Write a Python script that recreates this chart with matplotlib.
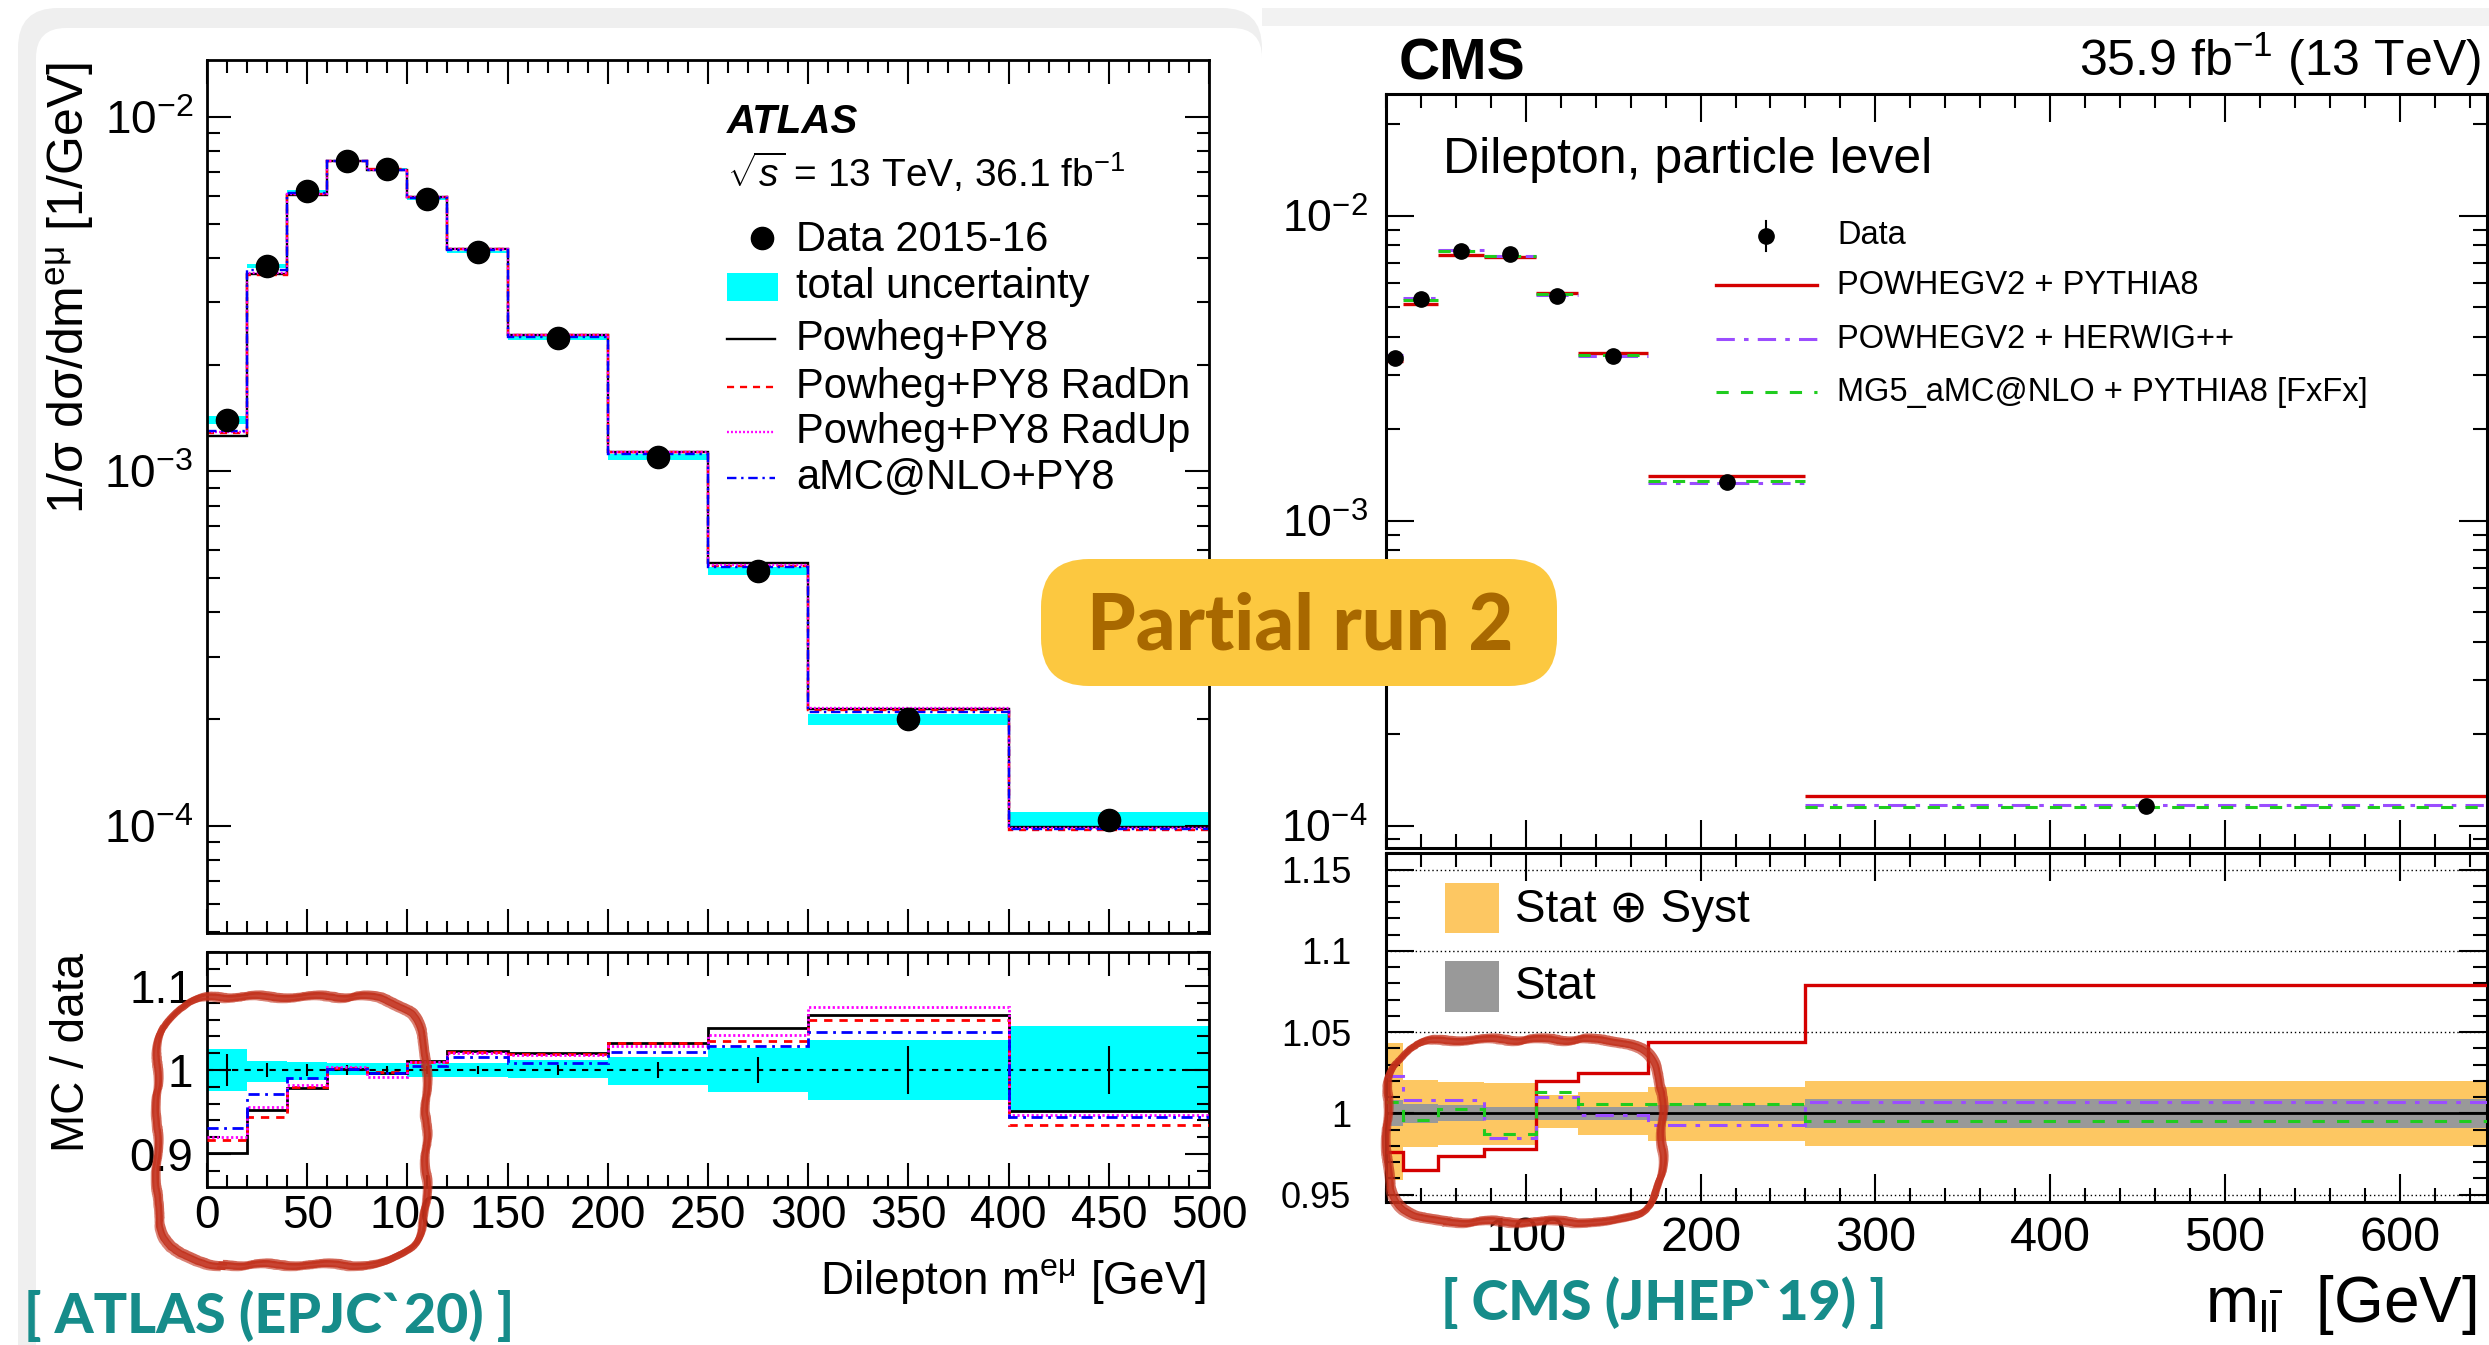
import numpy as np
import matplotlib.pyplot as plt
from matplotlib.patches import FancyBboxPatch, Rectangle
from matplotlib.lines import Line2D
from matplotlib.transforms import IdentityTransform
from matplotlib.ticker import LogLocator, MultipleLocator, NullFormatter

plt.rcParams['font.family'] = ['Liberation Sans', 'DejaVu Sans']
plt.rcParams['mathtext.fontset'] = 'custom'
plt.rcParams['mathtext.rm'] = 'Liberation Sans'
plt.rcParams['mathtext.it'] = 'Liberation Sans:italic'
plt.rcParams['mathtext.bf'] = 'Liberation Sans:bold'

# ---- ATLAS: normalised e-mu dilepton mass, Data 2015-16 ----
atlas_edges = [0, 20, 40, 60, 80, 100, 120, 150, 200, 250, 300, 400, 500]
atlas_data = [1.40e-3, 3.80e-3, 6.17e-3, 7.50e-3, 7.13e-3, 5.88e-3,
              4.16e-3, 2.38e-3, 1.10e-3, 5.24e-4, 2.00e-4, 1.04e-4]
atlas_unc_up = [0.025, 0.011, 0.010, 0.008, 0.008, 0.008, 0.008, 0.012, 0.016, 0.026, 0.036, 0.052]
atlas_unc_dn = [0.025, 0.014, 0.012, 0.006, 0.006, 0.008, 0.008, 0.010, 0.018, 0.026, 0.036, 0.049]
atlas_stat = [0.019, 0.008, 0.007, 0.006, 0.005, 0.005, 0.005, 0.006, 0.009, 0.016, 0.028, 0.028]
ratio_powheg = [0.901, 0.952, 0.979, 1.001, 0.996, 1.011, 1.023, 1.020, 1.032, 1.050, 1.065, 0.951]
ratio_raddn = [0.917, 0.944, 0.980, 1.002, 0.998, 1.010, 1.022, 1.019, 1.032, 1.034, 1.060, 0.935]
ratio_radup = [0.920, 0.956, 0.982, 1.003, 0.992, 1.009, 1.020, 1.018, 1.028, 1.042, 1.075, 0.947]
ratio_amc = [0.931, 0.972, 0.991, 1.001, 0.997, 1.005, 1.015, 1.008, 1.021, 1.028, 1.045, 0.944]
atlas_mc_labels = ['Powheg+PY8', 'Powheg+PY8 RadDn', 'Powheg+PY8 RadUp', 'aMC@NLO+PY8']

# ---- CMS: dilepton mass, particle level ----
cms_edges = [20, 30, 50, 76, 106, 130, 170, 260, 650]
cms_data = [3.42e-3, 5.33e-3, 7.64e-3, 7.48e-3, 5.45e-3, 3.47e-3, 1.34e-3, 1.156e-4]
cms_tot_up = [0.043, 0.0205, 0.0195, 0.0185, 0.011, 0.0133, 0.016, 0.020]
cms_tot_dn = [0.041, 0.0205, 0.0195, 0.0195, 0.009, 0.0133, 0.017, 0.020]
cms_stat = [0.008, 0.006, 0.005, 0.004, 0.004, 0.004, 0.005, 0.009]
ratio_pwg_py8 = [0.976, 0.965, 0.974, 0.978, 1.020, 1.025, 1.044, 1.079]
ratio_pwg_hw = [1.023, 1.008, 1.008, 0.985, 1.010, 0.999, 0.993, 1.007]
ratio_mg5 = [1.007, 0.996, 1.0025, 0.987, 1.013, 1.006, 1.006, 0.995]
cms_mc_labels = ['POWHEGV2 + PYTHIA8', 'POWHEGV2 + HERWIG++', 'MG5_aMC@NLO + PYTHIA8 [FxFx]']

W, H = 2489, 1345


def rect(x0, y0, x1, y1):
    # pixel box measured from the top-left corner -> figure fractions
    return [x0 / W, 1 - y1 / H, (x1 - x0) / W, (y1 - y0) / H]


def fx(x):
    return x / W


def fy(y):
    return 1 - y / H


def pbox(x0, y0, x1, y1, r, **kw):
    # rounded box in display pixels (keeps the corners round)
    return FancyBboxPatch((x0, H - y1), x1 - x0, y1 - y0,
                          boxstyle='round,pad=0,rounding_size=%d' % r,
                          transform=IdentityTransform(), **kw)


def style_axes(ax, major, minor, size, pad, spine=2.0):
    ax.tick_params(which='both', direction='in', top=True, right=True,
                   width=1.5, labelsize=size, pad=pad)
    ax.tick_params(which='major', length=major)
    ax.tick_params(which='minor', length=minor)
    for sp in ax.spines.values():
        sp.set_linewidth(spine)


fig = plt.figure(figsize=(W / 100, H / 100), dpi=100)

# faint frame of the left-hand slide image
fig.add_artist(pbox(18, 8, 1262, 1400, 40, fc='#efefef', ec='none', zorder=-10))
fig.add_artist(pbox(36, 28, 1262, 1400, 30, fc='white', ec='none', zorder=-9))
fig.add_artist(Rectangle((fx(1262), fy(26)), fx(W) - fx(1262), 18 / H,
                         fc='#f2f2f2', ec='none', zorder=-10))

ax1 = fig.add_axes(rect(207, 60, 1209, 933))
ax2 = fig.add_axes(rect(207, 952, 1209, 1187))
ax3 = fig.add_axes(rect(1386, 94, 2487, 848))
ax4 = fig.add_axes(rect(1386, 853, 2487, 1202))

# ---------------- ATLAS upper panel ----------------
ae = np.array(atlas_edges, float)
ac = 0.5 * (ae[:-1] + ae[1:])
ad = np.array(atlas_data)
a_up = np.array(atlas_unc_up)
a_dn = np.array(atlas_unc_dn)
atlas_ratios = [ratio_powheg, ratio_raddn, ratio_radup, ratio_amc]
atlas_styles = [('k', '-'), ('#ff0000', (0, (3, 2.5))),
                ('#ff00ff', (0, (0.8, 0.9))), ('#0000ff', (0, (4, 2, 1, 2)))]

ax1.stairs(ad * (1 + a_up), ae, baseline=ad * (1 - a_dn), fill=True,
           color='#00ffff', lw=0, zorder=1)
for r, (c, ls) in zip(atlas_ratios, atlas_styles):
    ax1.stairs(ad * np.array(r), ae, baseline=None, color=c, ls=ls, lw=1.7, zorder=2)
ax1.plot(ac, ad, 'o', color='k', ms=16, zorder=3)

ax1.set_xlim(0, 500)
ax1.set_yscale('log')
ax1.set_ylim(4.98e-5, 1.449e-2)
ax1.set_xticks(np.arange(0, 501, 50))
ax1.xaxis.set_minor_locator(MultipleLocator(10))
ax1.set_yticks([1e-4, 1e-3, 1e-2], [r'$10^{-4}$', r'$10^{-3}$', r'$10^{-2}$'])
ax1.yaxis.set_minor_locator(LogLocator(base=10, subs=np.arange(2, 10)))
ax1.yaxis.set_minor_formatter(NullFormatter())
style_axes(ax1, 17, 9, 33, 10)
ax1.tick_params(labelbottom=False)

# ---------------- ATLAS ratio panel ----------------
ax2.stairs(1 + a_up, ae, baseline=1 - a_dn, fill=True, color='#00ffff', lw=0, zorder=1)
ax2.axhline(1, color='k', ls=(0, (3, 3)), lw=1.5, zorder=2)
ax2.errorbar(ac, np.ones_like(ac), yerr=atlas_stat, fmt='none', ecolor='k',
             elinewidth=1.5, zorder=2)
for r, (c, ls) in zip(atlas_ratios, atlas_styles):
    ax2.stairs(r, ae, baseline=None, color=c, ls=ls, lw=2.0, zorder=3)
ax2.set_xlim(0, 500)
ax2.set_ylim(0.8607, 1.1405)
ax2.set_xticks(np.arange(0, 501, 50))
ax2.xaxis.set_minor_locator(MultipleLocator(10))
ax2.set_yticks([0.9, 1.0, 1.1], ['0.9', '1', '1.1'])
ax2.yaxis.set_minor_locator(MultipleLocator(0.02))
style_axes(ax2, 17, 9, 33, 10)
ax2.tick_params(axis='x', pad=5)

fig.text(fx(70), fy(62), r'1/σ dσ/dm$^{\mathrm{eμ}}$ [1/GeV]', rotation=90,
         ha='center', va='top', fontsize=36)
fig.text(fx(72), fy(953), 'MC / data', rotation=90, ha='center', va='top', fontsize=33)
fig.text(fx(1206), fy(1294), r'Dilepton m$^{\mathrm{eμ}}$ [GeV]', ha='right',
         va='baseline', fontsize=33)

# ATLAS label and legend
fig.text(fx(727), fy(133), 'ATLAS', fontsize=29, fontweight='bold', fontstyle='italic',
         va='baseline')
fig.text(fx(727), fy(187), r'$\sqrt{s}$ = 13 TeV, 36.1 fb$^{-1}$', fontsize=28, va='baseline')
atlas_rows = [240, 287, 339, 387, 432, 478]
fig.add_artist(Line2D([fx(762)], [fy(238)], marker='o', ms=16, color='k', ls='none'))
fig.text(fx(796), fy(atlas_rows[0]), 'Data 2015-16', fontsize=30, va='center')
fig.add_artist(Rectangle((fx(727), fy(301)), 51 / W, 28 / H, fc='#00ffff', ec='none'))
fig.text(fx(796), fy(atlas_rows[1]), 'total uncertainty', fontsize=30, va='center')
for y, lab, (c, ls) in zip(atlas_rows[2:], atlas_mc_labels, atlas_styles):
    fig.add_artist(Line2D([fx(727), fx(775)], [fy(y), fy(y)], color=c, ls=ls, lw=1.7))
    fig.text(fx(796), fy(y), lab, fontsize=30, va='center')

# ---------------- CMS upper panel ----------------
ce = np.array(cms_edges, float)
cc = 0.5 * (ce[:-1] + ce[1:])
cd = np.array(cms_data)
c_up = np.array(cms_tot_up)
c_dn = np.array(cms_tot_dn)
cms_ratios = [ratio_pwg_py8, ratio_pwg_hw, ratio_mg5]
cms_styles = [('#d40000', '-', 2.4), ('#9b4dff', (0, (6, 3, 1.5, 3)), 2.2),
              ('#1fcc1f', (0, (4, 4)), 2.2)]

for r, (c, ls, lw) in zip(cms_ratios, cms_styles):
    ax3.hlines(cd * np.array(r), ce[:-1], ce[1:], colors=c, linestyles=ls, lw=lw, zorder=2)
ax3.errorbar(cc, cd, yerr=[cd * c_dn, cd * c_up], fmt='o', color='k', ms=11,
             elinewidth=1.5, zorder=3)
ax3.set_xlim(20, 650)
ax3.set_yscale('log')
ax3.set_ylim(8.44e-5, 2.506e-2)
ax3.set_xticks(np.arange(100, 601, 100))
ax3.xaxis.set_minor_locator(MultipleLocator(20))
ax3.set_yticks([1e-4, 1e-3, 1e-2], [r'$10^{-4}$', r'$10^{-3}$', r'$10^{-2}$'])
ax3.yaxis.set_minor_locator(LogLocator(base=10, subs=np.arange(2, 10)))
ax3.yaxis.set_minor_formatter(NullFormatter())
style_axes(ax3, 20, 10, 32, 13, spine=2.2)
ax3.tick_params(labelbottom=False)

# ---------------- CMS ratio panel ----------------
ax4.stairs(1 + c_up, ce, baseline=1 - c_dn, fill=True, color='#fdc762', lw=0, zorder=1)
ax4.stairs(1 + np.array(cms_stat), ce, baseline=1 - np.array(cms_stat), fill=True,
           color='#999999', lw=0, zorder=1)
for yg in [0.95, 1.05, 1.1, 1.15]:
    ax4.axhline(yg, color='k', ls=(0, (1, 2)), lw=1.0, zorder=2)
ax4.axhline(1, color='k', lw=2.0, zorder=2)
for r, (c, ls, lw) in zip(cms_ratios, cms_styles):
    ax4.stairs(r, ce, baseline=None, color=c, ls=ls, lw=lw, zorder=3)
ax4.set_xlim(20, 650)
ax4.set_ylim(0.9454, 1.1602)
ax4.set_xticks(np.arange(100, 601, 100))
ax4.xaxis.set_minor_locator(MultipleLocator(20))
ax4.set_yticks([0.95, 1.0, 1.05, 1.1, 1.15], ['0.95', '1', '1.05', '1.1', '1.15'])
ax4.yaxis.set_minor_locator(MultipleLocator(0.01))
style_axes(ax4, 20, 10, 26, 25, spine=2.2)
ax4.tick_params(axis='x', labelsize=35, pad=10)

fig.text(fx(2477), fy(1322), r'm$_{\mathrm{l\bar{l}}}$  [GeV]', ha='right', va='baseline',
         fontsize=46)

# CMS header and legends
fig.text(fx(1399), fy(80), 'CMS', fontsize=41, fontweight='bold', va='baseline')
fig.text(fx(2481), fy(76), r'35.9 fb$^{-1}$ (13 TeV)', fontsize=36, ha='right', va='baseline')
fig.text(fx(1443), fy(173), 'Dilepton, particle level', fontsize=36, va='baseline')

cms_rows = [236, 285, 339, 392]
fig.add_artist(Line2D([fx(1766)], [fy(236)], marker='o', ms=11, color='k', ls='none'))
fig.add_artist(Line2D([fx(1766), fx(1766)], [fy(221), fy(251)], color='k', lw=1.5))
fig.text(fx(1837), fy(cms_rows[0]), 'Data', fontsize=23.5, va='center')
for y, lab, (c, ls, lw) in zip(cms_rows[1:], cms_mc_labels, cms_styles):
    fig.add_artist(Line2D([fx(1716), fx(1817)], [fy(y), fy(y)], color=c, ls=ls, lw=lw))
    fig.text(fx(1837), fy(y), lab, fontsize=23.5, va='center')

fig.add_artist(Rectangle((fx(1445), fy(933)), 54 / W, 50 / H, fc='#fdc762', ec='none'))
fig.text(fx(1515), fy(910), 'Stat ⊕ Syst', fontsize=33, va='center')
fig.add_artist(Rectangle((fx(1445), fy(1012)), 54 / W, 51 / H, fc='#999999', ec='none'))
fig.text(fx(1515), fy(987), 'Stat', fontsize=33, va='center')

# ---------------- references ----------------
fig.text(fx(24), fy(1316), '[ ATLAS (EPJC`20) ]', fontsize=40, fontweight='black',
         family=['Lato', 'DejaVu Sans'], color='#168c8a', va='center')
fig.text(fx(1441), fy(1303), '[ CMS (JHEP`19) ]', fontsize=40, fontweight='black',
         family=['Lato', 'DejaVu Sans'], color='#168c8a', va='center')

# ---------------- hand-drawn highlight loops ----------------
for (x0, y0, x1, y1, rr) in [(157, 997, 426, 1265, 65), (1387, 1040, 1662, 1222, 60)]:
    for dx, dy, lw, al in [(0, 0, 5.0, 0.9), (3, -3, 3.0, 0.75), (-3, 3, 2.5, 0.6)]:
        p = pbox(x0 + dx, y0 + dy, x1 + dx, y1 + dy, rr, fc='none', ec='#c2301b',
                 lw=lw, alpha=al, zorder=15)
        p.set_sketch_params(scale=1.5, length=80, randomness=4)
        fig.add_artist(p)

# ---------------- badge ----------------
fig.add_artist(pbox(1041, 559, 1557, 686, 48, fc='#fcc840', ec='none', zorder=20))
fig.text(fx(1300), fy(649), 'Partial run 2', fontsize=56, fontweight='black',
         family=['Lato', 'DejaVu Sans'], color='#a86800', ha='center', va='baseline',
         zorder=21)

fig.savefig('out.png', dpi=100)
